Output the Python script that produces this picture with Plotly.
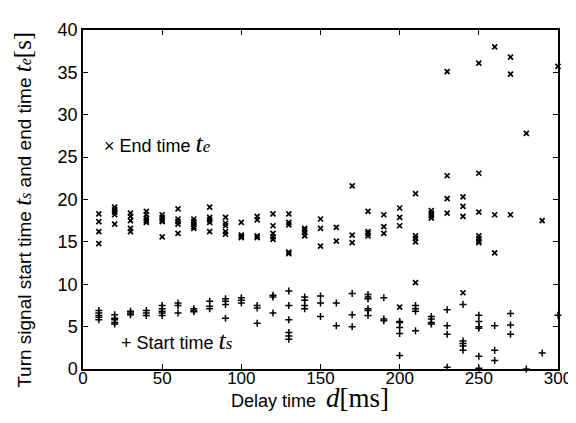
import plotly.graph_objects as go

# Delay time d [ms] and measured times [s]
end_d = ([10]*4 + [20]*5 + [30]*5 + [40]*5 + [50]*5 + [60]*5 + [70]*5 + [80]*5 + [90]*5 +
         [100]*4 + [110]*4 + [120]*5 + [130]*5 + [140]*4 + [150]*3 + [160]*2 + [170]*3 +
         [180]*4 + [190]*3 + [200]*4 + [210]*5 + [220]*4 + [230]*4 + [240]*4 + [250]*7 +
         [260]*3 + [270]*3 + [280]*1 + [290]*1 + [300]*1)
end_t = [18.3, 17.4, 16.2, 14.8,
         19.1, 18.8, 18.5, 18.2, 17.1,
         18.4, 18.0, 17.5, 16.6, 16.2,
         18.6, 18.2, 17.8, 17.5, 17.3,
         18.2, 17.9, 17.6, 17.4, 15.6,
         18.9, 17.7, 17.4, 17.1, 16.0,
         17.7, 17.4, 17.1, 16.8, 16.6,
         19.1, 17.9, 17.6, 17.3, 16.2,
         17.9, 17.2, 16.9, 16.2, 15.9,
         17.3, 15.8, 15.6, 15.5,
         18.0, 17.6, 15.7, 15.5,
         18.3, 16.9, 16.0, 15.6, 15.3,
         18.3, 17.3, 17.0, 13.8, 13.6,
         16.6, 16.4, 16.1, 15.7,
         17.7, 16.6, 14.5,
         16.7, 15.1,
         21.6, 15.8, 14.9,
         18.6, 16.2, 16.0, 15.7,
         18.2, 16.8, 16.0,
         19.0, 17.9, 16.9, 7.3,
         20.7, 15.7, 15.4, 15.0, 10.2,
         18.7, 18.4, 18.1, 17.8,
         35.1, 22.8, 20.1, 18.4,
         20.3, 19.2, 18.0, 9.0,
         36.1, 23.1, 18.5, 15.7, 15.4, 15.1, 14.9,
         38.0, 18.2, 13.7,
         36.8, 34.8, 18.2,
         27.8,
         17.5,
         35.7]

start_d = ([10]*5 + [20]*5 + [30]*3 + [40]*3 + [50]*5 + [60]*3 + [70]*3 + [80]*3 + [90]*4 +
           [100]*3 + [110]*3 + [120]*3 + [130]*6 + [140]*4 + [150]*3 + [160]*2 + [170]*3 +
           [180]*6 + [190]*3 + [200]*5 + [210]*4 + [220]*4 + [230]*4 + [240]*5 + [250]*6 +
           [260]*3 + [270]*3 + [280]*1 + [290]*1 + [300]*1)
start_t = [6.9, 6.6, 6.3, 6.1, 5.8,
           6.4, 6.0, 5.8, 5.5, 5.3,
           6.8, 6.6, 6.4,
           6.9, 6.6, 6.3,
           7.5, 7.1, 6.8, 6.6, 6.3,
           7.8, 7.5, 6.6,
           7.1, 6.9, 6.75,
           8.0, 7.4, 7.1,
           8.3, 8.0, 7.6, 6.0,
           8.4, 8.1, 7.8,
           7.5, 7.2, 5.4,
           8.7, 8.5, 6.6,
           9.2, 7.5, 5.8, 4.3, 3.9, 3.5,
           8.5, 8.1, 7.5, 7.1,
           8.6, 7.8, 6.2,
           7.8, 5.1,
           8.9, 6.4, 5.0,
           8.8, 8.5, 8.3, 7.1, 6.9, 6.3,
           8.4, 5.9, 5.7,
           5.6, 5.5, 4.9, 4.2, 1.6,
           7.5, 7.1, 6.8, 4.5,
           6.2, 5.9, 5.5, 5.3,
           7.0, 5.1, 4.1, 0.2,
           7.6, 3.3, 3.0, 2.7, 2.2,
           6.35, 5.6, 5.0, 4.8, 1.5, 0.1,
           5.1, 2.2, 1.0,
           6.55, 5.2, 4.1,
           0.0,
           1.9,
           6.35]

x_ticks = [0, 50, 100, 150, 200, 250, 300]
y_ticks = [0, 5, 10, 15, 20, 25, 30, 35, 40]

SANS = "Liberation Sans, Arial, sans-serif"
SERIF = "'Liberation Serif', 'Times New Roman', serif"

def tvar(sub, size=26, subsize=17):
    return (f"<span style=\"font-family:{SERIF};font-style:italic;font-size:{size}px\">t</span>"
            f"<span style=\"font-family:{SERIF};font-style:italic;font-size:{subsize}px\">{sub}</span>")

fig = go.Figure()
fig.add_trace(go.Scatter(x=end_d, y=end_t, mode="markers", name="End time",
                         marker=dict(symbol="x-thin", size=5, color="black",
                                     line=dict(width=1.7, color="black")),
                         cliponaxis=False, showlegend=False))
fig.add_trace(go.Scatter(x=start_d, y=start_t, mode="markers", name="Start time",
                         marker=dict(symbol="cross-thin", size=5, color="black",
                                     line=dict(width=1.5, color="black")),
                         cliponaxis=False, showlegend=False))

fig.add_annotation(x=12, y=26.6, xref="x", yref="y", xanchor="left", yanchor="middle",
                   showarrow=False,
                   text="× End time " + tvar("e"),
                   font=dict(size=18, color="black", family=SANS))
fig.add_annotation(x=23, y=3.4, xref="x", yref="y", xanchor="left", yanchor="middle",
                   showarrow=False,
                   text="+ Start time " + tvar("s"),
                   font=dict(size=18, color="black", family=SANS))

# axis titles placed as annotations
fig.add_annotation(x=0.478, y=-0.085, xref="paper", yref="paper", xanchor="center",
                   yanchor="middle", showarrow=False,
                   text="Delay time  "
                        f"<span style=\"font-family:{SERIF};font-style:italic;font-size:27px\">d</span>"
                        f"<span style=\"font-family:{SERIF};font-size:27px\">[ms]</span>",
                   font=dict(size=18, color="black", family=SANS))
fig.add_annotation(x=-0.126, y=0.47, xref="paper", yref="paper", xanchor="center",
                   yanchor="middle", showarrow=False, textangle=-90,
                   text="Turn signal start time " + tvar("s", 25, 16) +
                        " and end time " + tvar("e", 25, 16) +
                        f"<span style=\"font-family:{SERIF};font-size:25px\">[s]</span>",
                   font=dict(size=19, color="black", family=SANS))

axis_common = dict(showgrid=False, zeroline=False, showline=True, linecolor="black",
                   linewidth=1.5, mirror="ticks", ticks="inside", ticklen=5,
                   tickcolor="black", tickwidth=1)

fig.update_xaxes(range=[0, 300], tickvals=x_ticks, ticktext=[str(v) for v in x_ticks],
                 tickfont=dict(size=17, color="black", family=SANS),
                 ticklabelstandoff=-7,
                 **axis_common)
fig.update_yaxes(range=[0, 40], tickvals=y_ticks, ticktext=[str(v) for v in y_ticks],
                 tickfont=dict(size=18, color="black", family=SANS),
                 **axis_common)

fig.update_layout(width=576, height=423, margin=dict(l=75, r=22, t=21, b=62),
                  plot_bgcolor="white", paper_bgcolor="white", showlegend=False)

fig.write_html("out.html")
